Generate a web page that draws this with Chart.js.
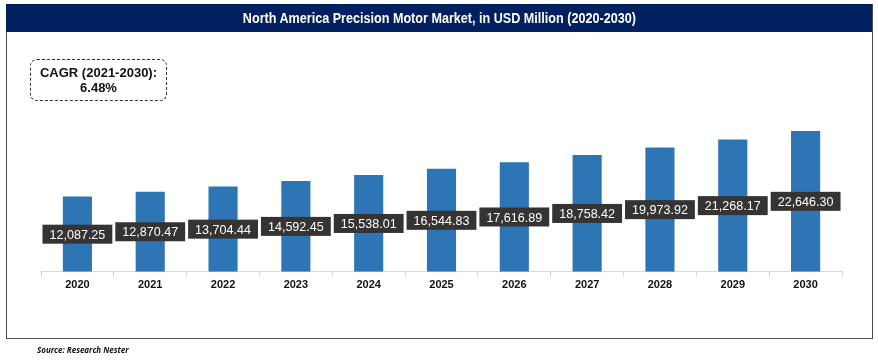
<!DOCTYPE html>
<html><head><meta charset="utf-8">
<script src="https://cdn.jsdelivr.net/npm/chart.js@4"></script>
<style>
html,body{margin:0;padding:0;background:#fff;width:878px;height:362px;overflow:hidden;font-family:"Liberation Sans",Arial,sans-serif;}
#frame{position:absolute;left:6px;top:4px;width:865px;height:333px;border:1.5px solid #4a4a4a;box-sizing:content-box;}
#title{position:absolute;left:6px;top:4px;width:866px;height:28px;background:#002060;color:#fff;font-family:"Liberation Sans",Arial,sans-serif;font-weight:bold;font-size:14px;line-height:29px;text-align:center;}
#title span{display:inline-block;transform:scaleX(0.9);transform-origin:center;white-space:nowrap;}
#cagr{position:absolute;left:30px;top:59px;width:135px;height:40px;border:1px dashed #333;border-radius:7px;font-weight:bold;font-size:13px;line-height:15px;text-align:center;color:#111;display:flex;flex-direction:column;justify-content:center;}
#source{position:absolute;left:37px;top:344px;font-family:"Open Sans",sans-serif;font-style:italic;font-weight:bold;font-size:8px;color:#111;}
#wrap{position:absolute;left:0;top:0;width:878px;height:362px;}
</style></head>
<body>
<div id="frame"></div>
<div id="wrap"><canvas id="c" width="878" height="362"></canvas></div>
<div id="title"><span>North America Precision Motor Market, in USD Million (2020-2030)</span></div>
<div id="cagr"><div>CAGR (2021-2030):</div><div>6.48%</div></div>
<div id="source">Source: Research Nester</div>
<script>
const years = ["2020","2021","2022","2023","2024","2025","2026","2027","2028","2029","2030"];
const marketValues = [12087.25,12870.47,13704.44,14592.45,15538.01,16544.83,17616.89,18758.42,19973.92,21268.17,22646.30];

const labelPlugin = {
  id: 'barLabels',
  afterDatasetsDraw(chart){
    const ctx = chart.ctx;
    const meta = chart.getDatasetMeta(0);
    const sx = 0.93;
    ctx.save();
    ctx.font = '13.5px "Liberation Sans", Arial, sans-serif';
    ctx.textAlign = 'center';
    ctx.textBaseline = 'middle';
    meta.data.forEach((bar, i) => {
      const txt = marketValues[i].toLocaleString('en-US',{minimumFractionDigits:2,maximumFractionDigits:2});
      const w = ctx.measureText(txt).width * sx + 14;
      const h = 19;
      const cy = (bar.y + bar.base) / 2;
      ctx.fillStyle = '#363432';
      ctx.fillRect(bar.x - w/2, cy - h/2, w, h);
      ctx.fillStyle = '#ffffff';
      ctx.save();
      ctx.translate(bar.x, cy + 1);
      ctx.scale(sx, 1);
      ctx.fillText(txt, 0, 0);
      ctx.restore();
    });
    ctx.restore();
  }
};

new Chart(document.getElementById('c'), {
  type: 'bar',
  data: {
    labels: years,
    datasets: [{
      data: marketValues,
      backgroundColor: '#2e75b6',
      categoryPercentage: 1,
      barPercentage: 0.4
    }]
  },
  options: {
    responsive: false,
    animation: false,
    layout: { padding: { left: 41, right: 36, top: 54, bottom: 68 } },
    plugins: { legend: { display: false }, tooltip: { enabled: false } },
    scales: {
      y: { display: false, min: 0, max: 35000 },
      x: {
        grid: { display: true, drawOnChartArea: false, offset: true, color: '#d9d9d9', tickLength: 5 },
        border: { display: true, color: '#d9d9d9', width: 1 },
        ticks: { color: '#111', padding: 2, font: { family: '"Liberation Sans", Arial, sans-serif', size: 11, weight: 'bold' } }
      }
    }
  },
  plugins: [labelPlugin]
});
</script>
</body></html>
